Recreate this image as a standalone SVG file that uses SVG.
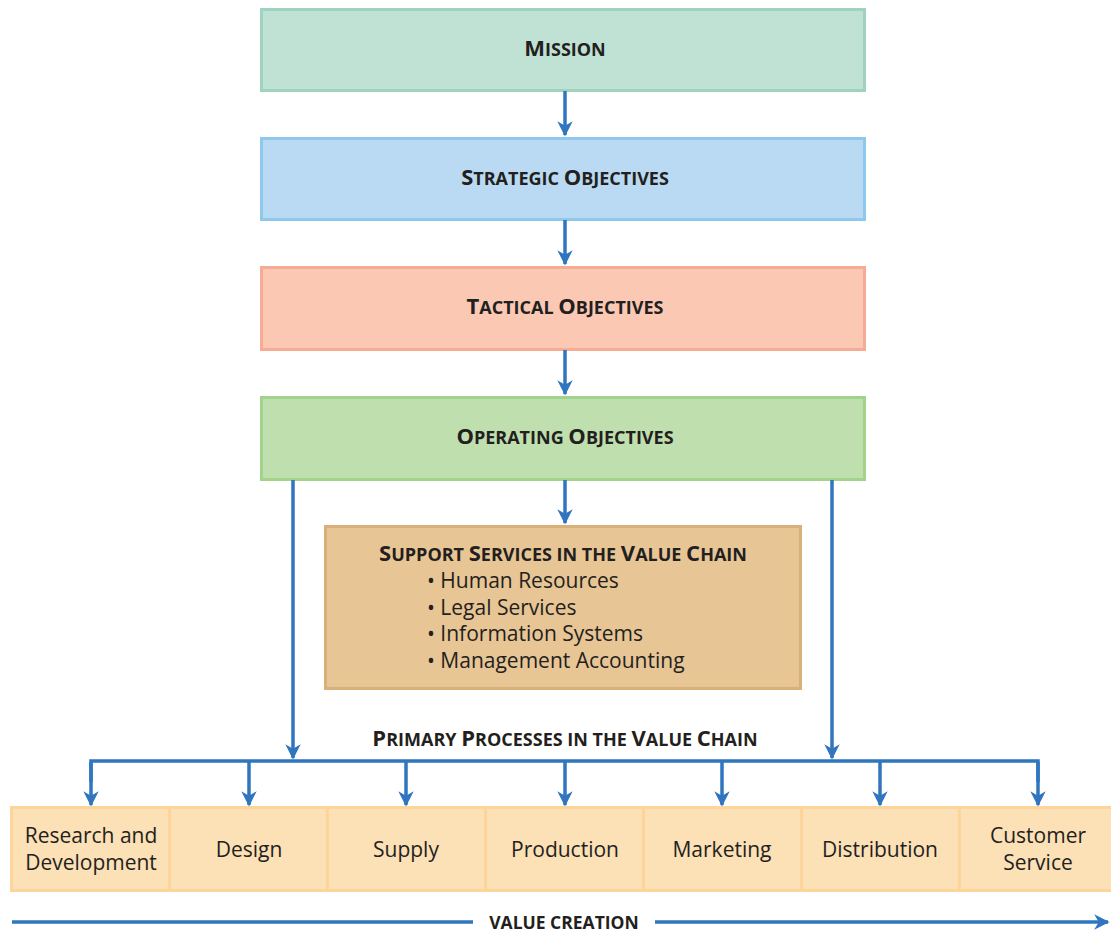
<svg xmlns="http://www.w3.org/2000/svg" width="1111" height="932" viewBox="0 0 1111 932">
<defs>
<marker id="ah" viewBox="0 0 10 10" refX="9" refY="5" markerWidth="4.4" markerHeight="4.4" orient="auto" markerUnits="strokeWidth">
<path d="M0,0 L10,5 L0,10 L3,5 Z" fill="#2f75bf"/>
</marker>
<style>
.h{font-family:"Open Sans","Liberation Sans",sans-serif;font-weight:bold;fill:#231f20;text-anchor:middle}
.cap{font-size:22px}
.sc{font-size:18px}
.t{font-family:"Open Sans","Liberation Sans",sans-serif;font-size:21px;fill:#231f20;text-anchor:middle}
.b{font-family:"Open Sans","Liberation Sans",sans-serif;font-size:21px;fill:#231f20}
.c{fill:none;stroke:#2f75bf;stroke-width:3.5}
.ca{fill:none;stroke:#2f75bf;stroke-width:3.5;marker-end:url(#ah)}
.pp{fill:#fce0b6;stroke:#fdd49a;stroke-width:3}
</style>
</defs>
<g id="mission">
<rect x="261.5" y="9.5" width="603" height="81" fill="#bfe2d5" stroke="#9fd3c0" stroke-width="3"/>
<text class="h" x="565" y="56"><tspan class="cap">M</tspan><tspan class="sc">ISSION</tspan></text>
</g>
<g id="strategic">
<rect x="261.5" y="138.5" width="603" height="81" fill="#b9daf2" stroke="#8ec8ec" stroke-width="3"/>
<text class="h" x="565" y="185"><tspan class="cap">S</tspan><tspan class="sc">TRATEGIC </tspan><tspan class="cap">O</tspan><tspan class="sc">BJECTIVES</tspan></text>
</g>
<g id="tactical">
<rect x="261.5" y="267.5" width="603" height="82" fill="#fbc8b4" stroke="#f6ab94" stroke-width="3"/>
<text class="h" x="565" y="314"><tspan class="cap">T</tspan><tspan class="sc">ACTICAL </tspan><tspan class="cap">O</tspan><tspan class="sc">BJECTIVES</tspan></text>
</g>
<g id="operating">
<rect x="261.5" y="397.5" width="603" height="82" fill="#c0dfae" stroke="#a1d38b" stroke-width="3"/>
<text class="h" x="565" y="444"><tspan class="cap">O</tspan><tspan class="sc">PERATING </tspan><tspan class="cap">O</tspan><tspan class="sc">BJECTIVES</tspan></text>
</g>
<g id="support">
<rect x="325.5" y="526.5" width="475" height="162" fill="#e8c594" stroke="#d9b07a" stroke-width="3"/>
<text class="h" x="563" y="561"><tspan class="cap">S</tspan><tspan class="sc">UPPORT </tspan><tspan class="cap">S</tspan><tspan class="sc">ERVICES IN THE </tspan><tspan class="cap">V</tspan><tspan class="sc">ALUE </tspan><tspan class="cap">C</tspan><tspan class="sc">HAIN</tspan></text>
<text class="b" x="427" y="588">• Human Resources</text>
<text class="b" x="427" y="615">• Legal Services</text>
<text class="b" x="427" y="641">• Information Systems</text>
<text class="b" x="427" y="668">• Management Accounting</text>
</g>
<g id="primary-label">
<text class="h" x="565" y="746"><tspan class="cap">P</tspan><tspan class="sc">RIMARY </tspan><tspan class="cap">P</tspan><tspan class="sc">ROCESSES IN THE </tspan><tspan class="cap">V</tspan><tspan class="sc">ALUE </tspan><tspan class="cap">C</tspan><tspan class="sc">HAIN</tspan></text>
</g>
<g id="rd"><rect class="pp" x="11.5" y="807.5" width="158" height="83"/><text class="t" x="91" y="843">Research and</text><text class="t" x="91" y="870">Development</text></g>
<g id="design"><rect class="pp" x="169.5" y="807.5" width="158" height="83"/><text class="t" x="249" y="857">Design</text></g>
<g id="supply"><rect class="pp" x="327.5" y="807.5" width="158" height="83"/><text class="t" x="406" y="857">Supply</text></g>
<g id="production"><rect class="pp" x="485.5" y="807.5" width="158" height="83"/><text class="t" x="565" y="857">Production</text></g>
<g id="marketing"><rect class="pp" x="643.5" y="807.5" width="158" height="83"/><text class="t" x="722" y="857">Marketing</text></g>
<g id="distribution"><rect class="pp" x="801.5" y="807.5" width="158" height="83"/><text class="t" x="880" y="857">Distribution</text></g>
<g id="customer"><rect class="pp" x="959.5" y="807.5" width="153" height="83"/><text class="t" x="1038" y="843">Customer</text><text class="t" x="1038" y="870">Service</text></g>
<g id="value-creation">
<text class="h" x="564" y="929" style="font-size:17.5px">VALUE CREATION</text>
</g>
<g id="connectors">
<line class="ca" x1="565" y1="91" x2="565" y2="135"/>
<line class="ca" x1="565" y1="220" x2="565" y2="264"/>
<line class="ca" x1="565" y1="350" x2="565" y2="394"/>
<line class="ca" x1="565" y1="480" x2="565" y2="523"/>
<line class="ca" x1="293" y1="480" x2="293" y2="758"/>
<line class="ca" x1="832" y1="480" x2="832" y2="758"/>
<polyline class="c" points="91,782 91,761 1038,761 1038,782"/>
<line class="ca" x1="91" y1="762" x2="91" y2="805"/>
<line class="ca" x1="249" y1="762" x2="249" y2="805"/>
<line class="ca" x1="406" y1="762" x2="406" y2="805"/>
<line class="ca" x1="565" y1="762" x2="565" y2="805"/>
<line class="ca" x1="722" y1="762" x2="722" y2="805"/>
<line class="ca" x1="880" y1="762" x2="880" y2="805"/>
<line class="ca" x1="1038" y1="762" x2="1038" y2="805"/>
<line class="c" x1="12" y1="922" x2="473" y2="922"/>
<line class="ca" x1="655" y1="922" x2="1108" y2="922"/>
</g>
</svg>
